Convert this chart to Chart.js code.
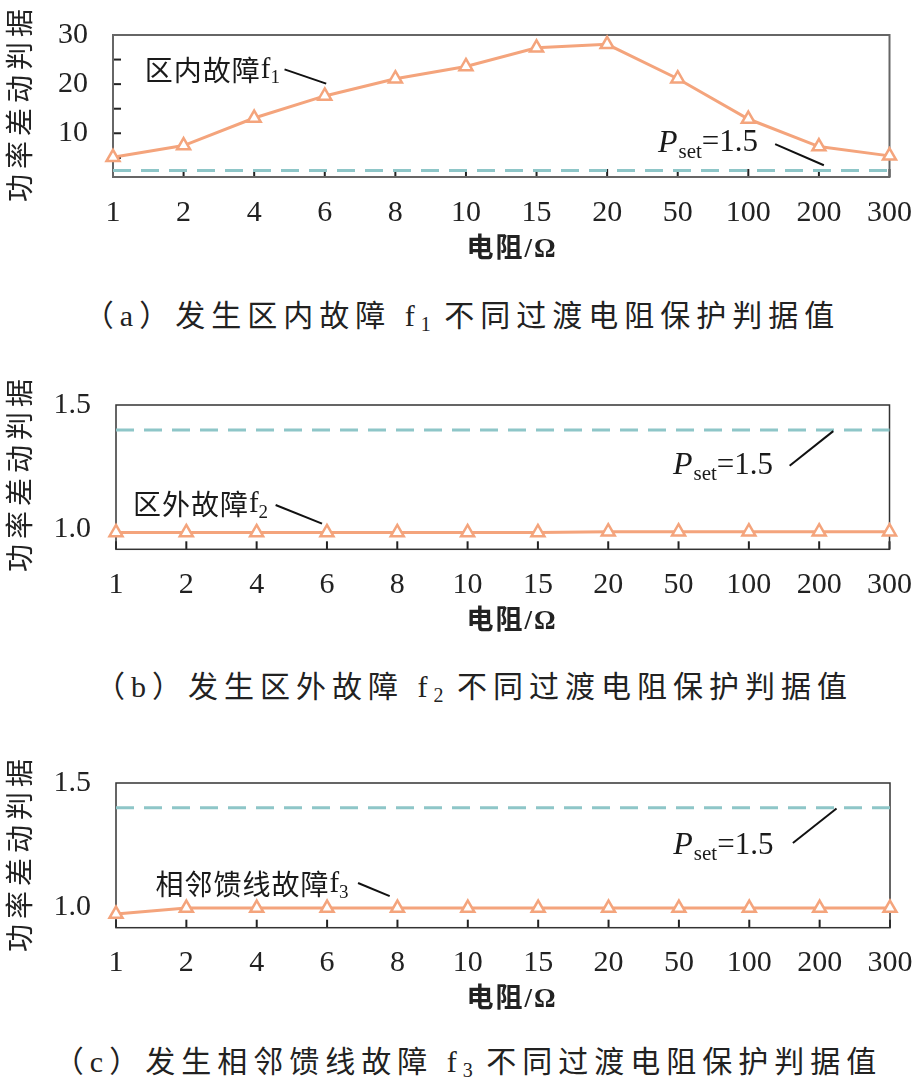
<!DOCTYPE html>
<html><head><meta charset="utf-8">
<script src="https://cdn.jsdelivr.net/npm/chart.js@4.4.0/dist/chart.umd.min.js"></script>
<style>
body{margin:0;background:#fff;width:922px;height:1087px;position:relative;overflow:hidden;}
canvas{position:absolute;left:0;}
.yt{position:absolute;font-family:"Noto Sans CJK SC";font-size:28px;letter-spacing:5px;line-height:28px;white-space:nowrap;color:#222;transform:translate(-50%,-50%) rotate(-90deg);}
.xt{position:absolute;font-family:"Liberation Serif","Noto Sans CJK SC";font-size:27px;font-weight:bold;letter-spacing:2px;line-height:28px;white-space:nowrap;color:#222;transform:translate(-50%,-50%);}
.cap{position:absolute;font-family:"Liberation Serif","Noto Sans CJK SC";font-size:30px;letter-spacing:6px;line-height:32px;white-space:nowrap;color:#222;transform:translate(-50%,-50%);}
.cap sub{font-size:20px;vertical-align:-5px;letter-spacing:0;}
</style>
</head><body>
<canvas id="ca" width="922" height="240" style="top:0px"></canvas>
<canvas id="cb" width="922" height="240" style="top:370px"></canvas>
<canvas id="cc" width="922" height="240" style="top:748px"></canvas>

<div class="yt" style="left:18px;top:103px">功率差动判据</div>
<div class="yt" style="left:18px;top:473px">功率差动判据</div>
<div class="yt" style="left:18px;top:853px">功率差动判据</div>

<div class="xt" style="left:512px;top:248px">电阻/Ω</div>
<div class="xt" style="left:512px;top:620px">电阻/Ω</div>
<div class="xt" style="left:512px;top:998px">电阻/Ω</div>

<div class="cap" style="left:462px;top:320px">（a）发生区内故障 f<sub>1</sub> 不同过渡电阻保护判据值</div>
<div class="cap" style="left:474px;top:691px">（b）发生区外故障 f<sub>2</sub> 不同过渡电阻保护判据值</div>
<div class="cap" style="left:468px;top:1066px">（c）发生相邻馈线故障 f<sub>3</sub> 不同过渡电阻保护判据值</div>

<script>
// ---- data ----
const resistanceLabels = ['1','2','4','6','8','10','15','20','50','100','200','300'];
const criterionF1 = [5.1, 7.5, 13.1, 17.6, 21.1, 23.6, 27.4, 28.1, 21.1, 12.9, 7.3, 5.4];
const criterionF2 = [0.988, 0.988, 0.988, 0.988, 0.988, 0.988, 0.988, 0.991, 0.991, 0.991, 0.991, 0.991];
const criterionF3 = [0.972, 0.996, 0.996, 0.996, 0.996, 0.996, 0.996, 0.996, 0.996, 0.996, 0.996, 0.996];
const psetLineA = 2.4;   // dashed threshold line as drawn in (a)
const psetLineBC = 1.4;  // dashed threshold line as drawn in (b),(c)
const yTicksA = [10, 20, 30];
const yInnerTicksA = [5, 10, 15, 20, 25];
const yTicksBC = [1.0, 1.5];

const ORANGE = '#F4A47C';
const TEAL = '#8EC6C8';
const SERIF = '"Liberation Serif"';
const CJK = '"Noto Sans CJK SC"';

function drawParts(ctx, x, y, parts){
  ctx.textBaseline = 'middle';
  ctx.textAlign = 'left';
  ctx.fillStyle = '#1a1a1a';
  let cx = x;
  parts.forEach(p=>{
    ctx.font = p.font;
    ctx.letterSpacing = p.ls || '0px';
    ctx.fillText(p.t, cx, y + (p.dy||0));
    cx += ctx.measureText(p.t).width + (p.gap||0);
  });
  ctx.letterSpacing = '0px';
}

function psetParts(){
  return [
    {t:'P', font:'italic 32px '+SERIF, gap:1},
    {t:'set', font:'21px '+SERIF, dy:9},
    {t:'=1.5', font:'31px '+SERIF}
  ];
}

function makeChart(id, cfg){
  const decor = {
    id:'decor',
    beforeDatasetsDraw(chart){
      const {ctx, chartArea:a, scales:{x, y}} = chart;
      ctx.save();
      ctx.strokeStyle = '#222'; ctx.lineWidth = 2;
      resistanceLabels.forEach((_, i)=>{
        const px = x.getPixelForValue(i);
        ctx.beginPath(); ctx.moveTo(px, a.bottom); ctx.lineTo(px, a.bottom - 8); ctx.stroke();
      });
      cfg.yInner.forEach(v=>{
        const py = y.getPixelForValue(v);
        ctx.beginPath(); ctx.moveTo(a.left, py); ctx.lineTo(a.left + 8, py); ctx.stroke();
      });
      ctx.strokeStyle = cfg.frameColor; ctx.lineWidth = cfg.frameWidth;
      ctx.strokeRect(a.left, a.top, a.right - a.left, a.bottom - a.top);
      ctx.restore();
    },
    afterDatasetsDraw(chart){
      const {ctx, scales:{x, y}} = chart;
      ctx.save();
      ctx.strokeStyle = '#111'; ctx.lineWidth = 2;
      cfg.notes.forEach(n=>{
        ctx.beginPath();
        ctx.moveTo(x.getPixelForValue(n.leader[0][0]), y.getPixelForValue(n.leader[0][1]));
        ctx.lineTo(x.getPixelForValue(n.leader[1][0]), y.getPixelForValue(n.leader[1][1]));
        ctx.stroke();
        drawParts(ctx, x.getPixelForValue(n.at[0]), y.getPixelForValue(n.at[1]), n.parts);
      });
      ctx.restore();
    }
  };
  return new Chart(document.getElementById(id), {
    type:'line',
    data:{
      labels: resistanceLabels,
      datasets:[
        {data: resistanceLabels.map(()=>cfg.pset), borderColor: TEAL, borderWidth: 3,
         borderDash:[18,10], pointRadius:0, fill:false, clip:false, order:2},
        {data: cfg.values, borderColor: ORANGE, borderWidth: 3, pointStyle:'triangle',
         pointRadius: 7.5, pointBorderWidth: 2.5, pointBackgroundColor:'#fff',
         pointBorderColor: ORANGE, tension:0, fill:false, clip:false, order:1}
      ]
    },
    options:{
      responsive:false, animation:false, devicePixelRatio:1,
      layout:{padding:{left:0, right:cfg.padRight, top:cfg.padTop, bottom:0}},
      plugins:{legend:{display:false}, tooltip:{enabled:false}},
      scales:{
        x:{
          type:'category', offset:false,
          grid:{display:false}, border:{display:false},
          ticks:{color:'#222', font:{family:'Liberation Serif', size:30, lineHeight:1.2}, padding:cfg.xPad, maxRotation:0, autoSkip:false},
          afterFit(s){ s.height = cfg.xHeight; }
        },
        y:{
          min: cfg.min, max: cfg.max,
          grid:{display:false}, border:{display:false},
          ticks:{color:'#222', font:{family:'Liberation Serif', size:30}, padding:17,
                 callback:(v)=> cfg.dec ? Number(v).toFixed(1) : String(v)},
          afterBuildTicks(s){ s.ticks = cfg.yTicks.map(v=>({value:v})); },
          afterFit(s){ s.width = cfg.left; }
        }
      }
    },
    plugins:[decor]
  });
}

makeChart('ca', {
  values: criterionF1, pset: psetLineA, min:1.1, max:30, yTicks: yTicksA, yInner: yInnerTicksA, dec:false,
  left:113, padRight:29, padTop:29, xHeight:63, xPad:10, frameColor:'#666', frameWidth:2,
  notes:[
    {at:[0.45, 22.8], leader:[[2.43, 23.0],[3.02, 20.1]],
     parts:[{t:'区内故障', font:'28px '+CJK, ls:'1px'}, {t:'f', font:'29px '+SERIF}, {t:'1', font:'19px '+SERIF, dy:8}]},
    {at:[7.72, 8.0], leader:[[9.38, 7.8],[10.07, 3.5]], parts: psetParts()}
  ]
});

makeChart('cb', {
  values: criterionF2, pset: psetLineBC, min:0.92, max:1.5, yTicks: yTicksBC, yInner: [], dec:true,
  left:116, padRight:25, padTop:25, xHeight:60.7, xPad:10, frameColor:'#333', frameWidth:1.5,
  notes:[
    {at:[0.24, 1.1], leader:[[2.27, 1.098],[2.93, 1.023]],
     parts:[{t:'区外故障', font:'28px '+CJK, ls:'1px'}, {t:'f', font:'29px '+SERIF}, {t:'2', font:'19px '+SERIF, dy:8}]},
    {at:[7.92, 1.256], leader:[[9.58, 1.256],[10.2, 1.395]], parts: psetParts()}
  ]
});

makeChart('cc', {
  values: criterionF3, pset: psetLineBC, min:0.917, max:1.5, yTicks: yTicksBC, yInner: [], dec:true,
  left:116, padRight:25, padTop:24.7, xHeight:60.3, xPad:9.5, frameColor:'#333', frameWidth:1.5,
  notes:[
    {at:[0.56, 1.09], leader:[[3.44, 1.097],[3.89, 1.044]],
     parts:[{t:'相邻馈线故障', font:'28px '+CJK, ls:'1px'}, {t:'f', font:'29px '+SERIF}, {t:'3', font:'19px '+SERIF, dy:8}]},
    {at:[7.92, 1.247], leader:[[9.62, 1.258],[10.24, 1.397]], parts: psetParts()}
  ]
});
</script>
</body></html>
